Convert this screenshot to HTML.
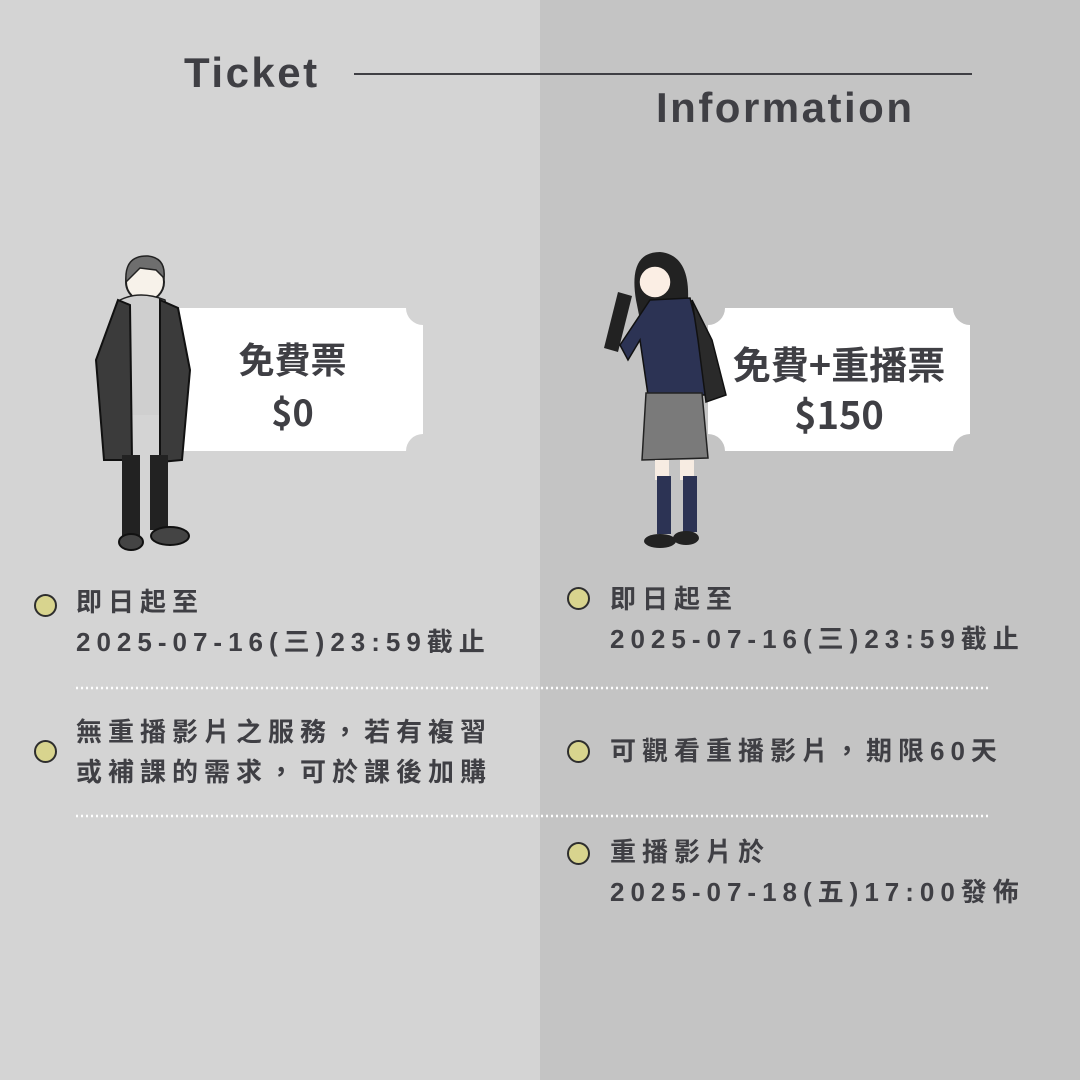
<!DOCTYPE html>
<html><head><meta charset="utf-8"><style>
html,body{margin:0;padding:0}
body{width:1080px;height:1080px;overflow:hidden;position:relative;background:#d4d4d4;font-family:"Liberation Sans","Noto Sans CJK TC",sans-serif;color:#3f3f44}
.t{position:absolute;font-weight:bold;font-size:26px;letter-spacing:6px;line-height:40px;white-space:nowrap;font-family:"Liberation Sans","Noto Sans CJK TC",sans-serif}
.dot{position:absolute;width:19px;height:19px;border-radius:50%;background:#d8d48e;border:2.5px solid #2e2e2e}
.tk{position:absolute;font-weight:bold;text-align:center;font-family:"Noto Sans CJK TC",sans-serif}
</style></head><body>
<svg width="1080" height="1080" style="position:absolute;left:0;top:0">
<rect x="540" y="0" width="540" height="1080" fill="#c4c4c4"/>
<line x1="354" y1="74" x2="972" y2="74" stroke="#3f3f44" stroke-width="2"/>
<line x1="76" y1="688" x2="990" y2="688" stroke="#fff" stroke-width="2.5" stroke-dasharray="2 3"/>
<line x1="76" y1="816" x2="990" y2="816" stroke="#fff" stroke-width="2.5" stroke-dasharray="2 3"/>
<path d="M176 308 H406 A17 17 0 0 0 423 325 V434 A17 17 0 0 0 406 451 H176 Z" fill="#fff"/>
<path d="M725 308 H953 A17 17 0 0 0 970 325 V434 A17 17 0 0 0 953 451 H725 A17 17 0 0 0 708 434 V325 A17 17 0 0 0 725 308 Z" fill="#fff"/>
<circle cx="145" cy="282" r="19" fill="#f7f2ea" stroke="#222" stroke-width="2"/>
<path d="M126 282 Q124 255 148 256 Q166 258 164 278 L156 270 L140 268 Z" fill="#6e6e6e" stroke="#222" stroke-width="1.5"/>
<path d="M120 300 Q140 290 165 300 L170 330 L128 330 Z" fill="#cfcfcf" stroke="#222" stroke-width="1.5"/>
<rect x="130" y="300" width="30" height="115" fill="#cfcfcf"/>
<path d="M118 300 L130 305 L132 460 L104 460 L96 360 Z" fill="#3b3b3b" stroke="#111" stroke-width="2"/>
<path d="M160 300 L178 308 L190 370 L182 460 L160 462 Z" fill="#3b3b3b" stroke="#111" stroke-width="2"/>
<rect x="122" y="455" width="18" height="82" fill="#222"/>
<rect x="150" y="455" width="18" height="75" fill="#222"/>
<ellipse cx="131" cy="542" rx="12" ry="8" fill="#444" stroke="#111" stroke-width="2"/>
<ellipse cx="170" cy="536" rx="19" ry="9" fill="#444" stroke="#111" stroke-width="2"/>
<path d="M636 300 Q628 252 660 252 Q690 255 688 300 L690 320 L640 320 Z" fill="#222"/>
<circle cx="655" cy="282" r="16" fill="#fbeee4" stroke="#222" stroke-width="1.5"/>
<path d="M604 348 L618 292 L632 296 L618 352 Z" fill="#222"/>
<path d="M650 300 L690 298 L705 360 L708 395 L648 395 L640 340 L628 360 L620 345 Z" fill="#2c3354" stroke="#111" stroke-width="1.5"/>
<path d="M692 300 L712 340 L726 395 L706 402 L698 340 Z" fill="#2a2a2a" stroke="#111" stroke-width="1.5"/>
<path d="M646 393 L702 393 L708 458 L642 460 Z" fill="#7a7a7a" stroke="#222" stroke-width="1.5"/>
<rect x="655" y="460" width="14" height="20" fill="#f7ece2"/>
<rect x="680" y="460" width="14" height="20" fill="#f7ece2"/>
<rect x="657" y="476" width="14" height="58" fill="#2c3354"/>
<rect x="683" y="476" width="14" height="56" fill="#2c3354"/>
<ellipse cx="660" cy="541" rx="16" ry="7" fill="#222"/>
<ellipse cx="686" cy="538" rx="13" ry="7" fill="#222"/>
</svg>
<div style="position:absolute;left:184px;top:50px;font-size:42px;line-height:46px;font-weight:bold;letter-spacing:2.5px">Ticket</div>
<div style="position:absolute;left:656px;top:85px;font-size:42px;line-height:46px;font-weight:bold;letter-spacing:2.5px">Information</div>
<div class="tk" style="left:190px;top:332px;width:205px;font-size:36px;line-height:53px">免費票<br>$0</div>
<div class="tk" style="left:710px;top:338px;width:258px;font-size:38px;line-height:50px">免費+重播票<br>$150</div>
<div class="dot" style="left:34px;top:594px"></div>
<div class="t" style="left:76px;top:582px">即日起至<br>2025-07-16(三)23:59截止</div>
<div class="dot" style="left:34px;top:740px"></div>
<div class="t" style="left:76px;top:712px">無重播影片之服務，若有複習<br>或補課的需求，可於課後加購</div>
<div class="dot" style="left:567px;top:587px"></div>
<div class="t" style="left:610px;top:579px">即日起至<br>2025-07-16(三)23:59截止</div>
<div class="dot" style="left:567px;top:740px"></div>
<div class="t" style="left:610px;top:731px">可觀看重播影片，期限60天</div>
<div class="dot" style="left:567px;top:842px"></div>
<div class="t" style="left:610px;top:832px">重播影片於<br>2025-07-18(五)17:00發佈</div>
</body></html>
